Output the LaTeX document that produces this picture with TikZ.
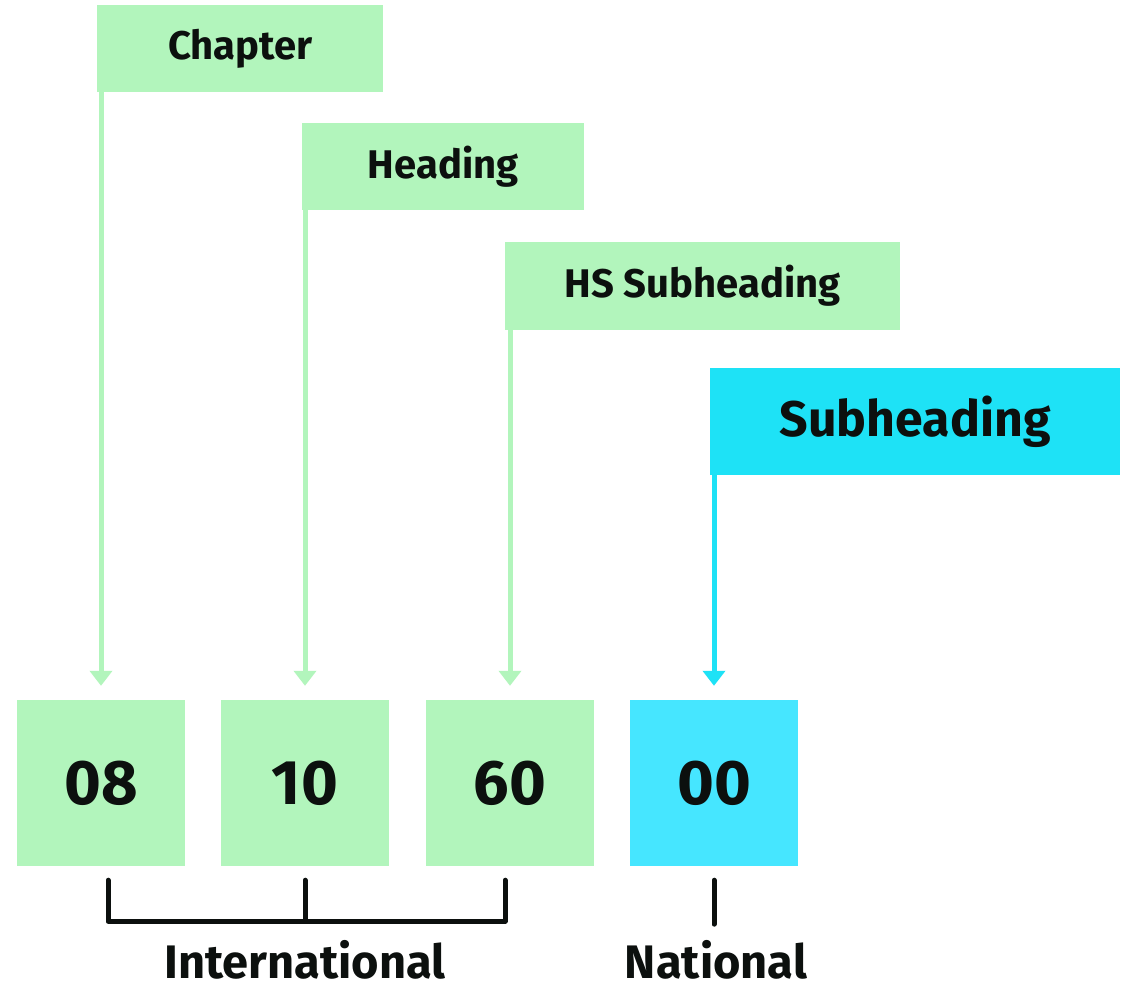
\documentclass[tikz,border=0pt]{standalone}
\usepackage{fontspec}
\setmainfont{Fira Sans}
\usetikzlibrary{arrows.meta,positioning}
\definecolor{mint}{RGB}{178,245,188}
\definecolor{aqua}{RGB}{30,226,246}
\definecolor{aquabox}{RGB}{70,230,255}
\definecolor{ink}{RGB}{12,16,14}
\tikzset{
  level/.style={fill=mint, anchor=north west, inner sep=0pt,
    font=\fontsize{40}{40}\selectfont\bfseries, text=ink},
  digit/.style={fill=mint, minimum width=168, minimum height=166, inner sep=0pt,
    font=\fontsize{63}{63}\selectfont\bfseries, text=ink},
  pointer/.style={line width=5pt, mint, -{Triangle[width=22pt,length=15pt]}},
  brace/.style={line width=5pt, ink, line cap=round, line join=round},
  group/.style={inner sep=0pt, font=\fontsize{47}{47}\selectfont\bfseries, text=ink}
}
\begin{document}
\begin{tikzpicture}[x=1pt,y=-1pt]
  \useasboundingbox[fill=white] (0,0) rectangle (1129,993);
  % code levels
  \node[level, minimum width=286, minimum height=87] (chapter) at (97,5) {Chapter};
  \node[level, minimum width=282, minimum height=87] (heading) at (302,123) {Heading};
  \node[level, minimum width=395, minimum height=88] (hs) at (505,242) {HS Subheading};
  \node[level, fill=aqua, minimum width=410, minimum height=107,
    font=\fontsize{50}{50}\selectfont\bfseries] (sub) at (710,368) {Subheading};
  % digits
  \node[digit] (d08) at (101,783) {08};
  \node[digit] (d10) at (305,783) {10};
  \node[digit] (d60) at (510,783) {60};
  \node[digit, fill=aquabox] (d00) at (714,783) {00};
  % pointers
  \draw[pointer] (chapter.south west -| d08.north) -- ([yshift=14pt]d08.north);
  \draw[pointer] (heading.south west -| d10.north) -- ([yshift=14pt]d10.north);
  \draw[pointer] (hs.south west -| d60.north) -- ([yshift=14pt]d60.north);
  \draw[pointer, aqua] (sub.south west -| d00.north) -- ([yshift=14pt]d00.north);
  % groups
  \draw[brace] ([xshift=7pt,yshift=-14pt]d08.south) -- ([xshift=7pt,yshift=-55pt]d08.south)
    -- ([xshift=-5pt,yshift=-55pt]d60.south) -- ([xshift=-5pt,yshift=-14pt]d60.south);
  \draw[brace] ([yshift=-14pt]d10.south) -- ([yshift=-55pt]d10.south);
  \draw[brace] ([yshift=-14pt]d00.south) -- ([yshift=-58pt]d00.south);
  \node[group] (intl) at (305,960) {International};
  \node[group] (natl) at (716,960) {National};
\end{tikzpicture}
\end{document}
